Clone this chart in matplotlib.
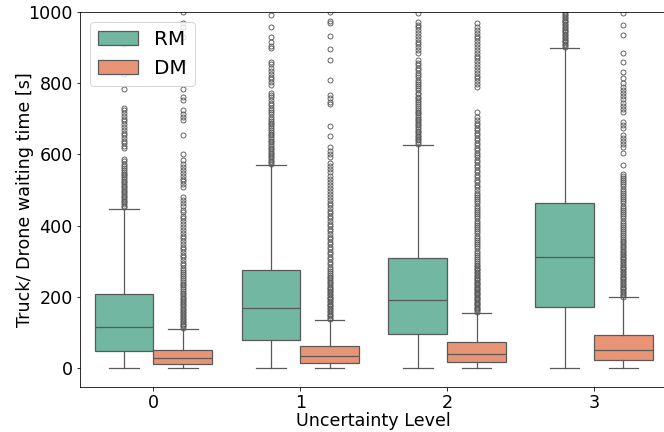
import matplotlib
matplotlib.use("Agg")
import matplotlib.pyplot as plt
from matplotlib.patches import Patch

# ---- data -------------------------------------------------------------
levels = [0, 1, 2, 3]
methods = ["RM", "DM"]

# box statistics per uncertainty level (seconds)
rm_q1 = [49, 78, 95, 171]
rm_med = [116, 168, 191, 311]
rm_q3 = [209, 275, 308, 464]
rm_whislo = [0, 0, 0, 0]
rm_whishi = [447, 570, 627, 899]

dm_q1 = [12, 14, 17, 23]
dm_med = [28, 34, 39, 50]
dm_q3 = [51, 61, 73, 93]
dm_whislo = [0, 0, 0, 0]
dm_whishi = [111, 135, 156, 199]

# outliers beyond the upper whisker
rm_fliers_0 = [452, 456, 461, 465, 470, 474, 479, 484, 488, 493, 497, 502, 507,
               512, 516, 521, 526, 531, 536, 541, 546, 551, 556, 562, 568, 574,
               580, 586, 617, 624, 631, 638, 646, 653, 660, 668, 676, 684, 692,
               700, 708, 716, 723, 731, 782, 825, 910]
rm_fliers_1 = [573, 577, 582, 586, 591, 596, 600, 605, 610, 615, 619, 624, 629,
               634, 638, 643, 648, 653, 658, 663, 668, 673, 678, 684, 689, 694,
               700, 706, 712, 718, 724, 731, 738, 745, 752, 760, 767, 771, 795,
               802, 810, 818, 826, 835, 843, 852, 860, 897, 905, 915, 929, 956,
               990]
rm_fliers_2 = [630, 634, 639, 643, 648, 652, 657, 662, 666, 671, 676, 681, 686,
               690, 695, 700, 705, 710, 715, 720, 725, 730, 735, 741, 746, 751,
               757, 762, 768, 773, 779, 785, 791, 797, 803, 809, 816, 822, 829,
               836, 843, 850, 857, 864, 884, 892, 900, 908, 916, 924, 932, 940,
               948, 956, 964, 972, 995]
rm_fliers_3 = [902, 906, 910, 914, 918, 922, 926, 930, 934, 938, 942, 946, 950,
               954, 958, 962, 966, 970, 974, 978, 982, 986, 990, 994, 998]

dm_fliers_0 = [113, 117, 121, 125, 129, 133, 137, 141, 146, 150, 154, 158, 163,
               167, 171, 176, 180, 185, 189, 194, 198, 203, 208, 212, 217, 222,
               227, 232, 237, 242, 247, 252, 258, 264, 270, 276, 282, 289, 296,
               304, 311, 318, 326, 333, 341, 349, 356, 364, 371, 380, 388, 396,
               404, 412, 420, 428, 437, 445, 455, 463, 472, 480, 508, 516, 524,
               532, 540, 548, 556, 565, 573, 583, 600, 654, 696, 704, 712, 724,
               752, 762, 782, 860, 930, 958, 967, 1000]
dm_fliers_1 = [137, 141, 145, 149, 153, 157, 161, 165, 169, 173, 177, 181, 185,
               189, 193, 197, 201, 205, 209, 213, 217, 221, 225, 229, 234, 238,
               243, 247, 252, 257, 262, 267, 272, 278, 285, 292, 299, 306, 313,
               320, 327, 334, 341, 348, 355, 362, 369, 376, 384, 391, 398, 405,
               412, 420, 427, 434, 442, 449, 457, 464, 472, 480, 488, 496, 505,
               513, 522, 531, 540, 549, 558, 566, 575, 592, 600, 610, 620, 651,
               680, 740, 748, 757, 765, 808, 864, 895, 932, 967, 975, 1000]
dm_fliers_2 = [158, 162, 165, 169, 172, 176, 179, 183, 186, 190, 193, 197, 200,
               204, 207, 211, 214, 218, 221, 225, 228, 232, 235, 239, 243, 246,
               250, 254, 258, 262, 266, 270, 274, 278, 282, 286, 290, 295, 300,
               306, 312, 318, 324, 330, 336, 342, 348, 354, 360, 366, 372, 378,
               384, 390, 396, 402, 408, 414, 420, 426, 432, 438, 444, 450, 456,
               462, 468, 474, 480, 486, 492, 500, 507, 514, 521, 528, 535, 542,
               549, 556, 563, 570, 577, 584, 591, 598, 605, 612, 619, 626, 633,
               640, 647, 654, 661, 668, 675, 682, 689, 696, 704, 719, 789, 797,
               805, 813, 821, 829, 837, 845, 853, 861, 869, 877, 885, 893, 901,
               909, 917, 925, 933, 941, 949, 957, 967]
dm_fliers_3 = [201, 205, 209, 213, 217, 221, 225, 229, 233, 237, 241, 245, 249,
               253, 257, 261, 265, 269, 273, 277, 281, 285, 289, 293, 297, 301,
               305, 309, 313, 317, 321, 325, 330, 334, 339, 343, 348, 353, 358,
               363, 368, 373, 378, 384, 390, 396, 402, 408, 414, 420, 426, 432,
               438, 444, 450, 456, 462, 468, 474, 480, 486, 492, 498, 504, 510,
               516, 522, 528, 534, 540, 546, 570, 603, 620, 628, 636, 645, 654,
               673, 681, 690, 720, 728, 736, 745, 754, 763, 772, 781, 790, 800,
               813, 831, 859, 883, 934, 964, 995]

rm_fliers = [rm_fliers_0, rm_fliers_1, rm_fliers_2, rm_fliers_3]
dm_fliers = [dm_fliers_0, dm_fliers_1, dm_fliers_2, dm_fliers_3]

# ---- style ------------------------------------------------------------
FS = 17.5
plt.rcParams["font.family"] = ["DejaVu Sans"]
colors = {"RM": "#72b7a1", "DM": "#e99575"}
line_gray = "#595959"
box_w = 0.4
offsets = {"RM": -0.2, "DM": 0.2}


def make_stats(q1, med, q3, lo, hi, fl):
    return [dict(q1=a, med=m, q3=b, whislo=w0, whishi=w1, fliers=f)
            for a, m, b, w0, w1, f in zip(q1, med, q3, lo, hi, fl)]


series = {
    "RM": make_stats(rm_q1, rm_med, rm_q3, rm_whislo, rm_whishi, rm_fliers),
    "DM": make_stats(dm_q1, dm_med, dm_q3, dm_whislo, dm_whishi, dm_fliers),
}

fig = plt.figure(figsize=(664 / 72, 432 / 72), dpi=72)
ax = fig.add_axes([80 / 664, 45.3 / 432, 587.5 / 664, 375 / 432])

lw = 1.25
for name in methods:
    ax.bxp(
        series[name],
        positions=[lv + offsets[name] for lv in levels],
        widths=box_w,
        patch_artist=True,
        showfliers=True,
        manage_ticks=False,
        boxprops=dict(facecolor=colors[name], edgecolor=line_gray, linewidth=lw),
        medianprops=dict(color=line_gray, linewidth=lw),
        whiskerprops=dict(color=line_gray, linewidth=lw),
        capprops=dict(color=line_gray, linewidth=lw),
        flierprops=dict(marker="o", markersize=5, markerfacecolor="none",
                        markeredgecolor=line_gray, markeredgewidth=0.9,
                        linestyle="none"),
    )

ax.set_xlim(-0.5, 3.5)
ax.set_ylim(-52, 1000)
ax.set_xticks(levels)
ax.set_xticklabels([str(lv) for lv in levels])
ax.set_yticks([0, 200, 400, 600, 800, 1000])
ax.tick_params(labelsize=FS)
ax.set_xlabel("Uncertainty Level", fontsize=FS)
ax.set_ylabel("Truck/ Drone waiting time [s]", fontsize=FS)
ax.xaxis.set_label_coords(0.5, -0.067)
ax.yaxis.set_label_coords(-0.079, 0.5)

handles = [Patch(facecolor=colors[n], edgecolor=line_gray, linewidth=lw, label=n)
           for n in methods]
ax.legend(handles=handles, loc="upper left", fontsize=20, handlelength=2.0,
          handleheight=0.7)

fig.savefig("out.png", dpi=72)
